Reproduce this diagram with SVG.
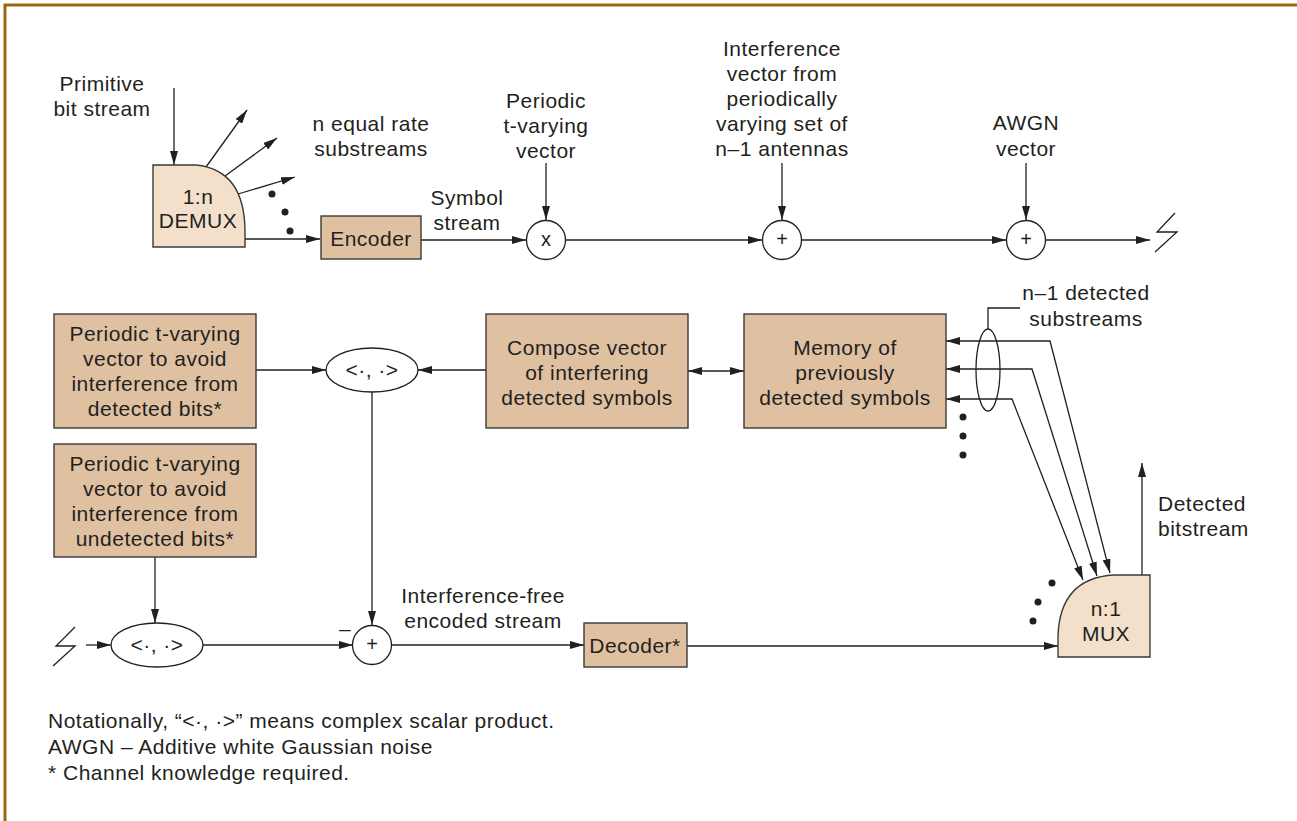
<svg xmlns="http://www.w3.org/2000/svg" width="1297" height="821" viewBox="0 0 1297 821">
  <style>
    text { font-family: "Liberation Sans", Arial, sans-serif; font-size: 21px; letter-spacing: 0.5px; fill: #231f20; text-anchor: middle; dominant-baseline: central; }
    .l { text-anchor: start; }
    .note { font-size: 21px; text-anchor: start; }
    .sym { font-size: 20px; letter-spacing: 0; }
    .box { fill: #dfc1a2; stroke: #3a3a3a; stroke-width: 1.4; }
    .mux { fill: #f3dfca; stroke: #3a3a3a; stroke-width: 1.4; }
    .op { fill: #ffffff; stroke: #231f20; stroke-width: 1.3; }
    .w { fill: none; stroke: #231f20; stroke-width: 1.3; }
    .arr { marker-end: url(#ah); }
    .arr2 { marker-start: url(#ah); marker-end: url(#ah); }
    .dot { fill: #231f20; }
  </style>
  <defs>
    <marker id="ah" viewBox="0 0 14 8" refX="14" refY="4" markerWidth="14" markerHeight="8" orient="auto-start-reverse" markerUnits="userSpaceOnUse">
      <path d="M0,0 L14,4 L0,8 Z" fill="#231f20"/>
    </marker>
  </defs>

  <!-- frame -->
  <path d="M5,821 L5,5 L1297,5" fill="none" stroke="#a0650f" stroke-width="3"/>

  <!-- connectors -->
  <g id="connectors">
    <!-- transmitter chain -->
    <line class="w arr" x1="174" y1="88" x2="174" y2="165"/>
    <line class="w arr" x1="206" y1="167" x2="247" y2="110"/>
    <line class="w arr" x1="225" y1="176" x2="277" y2="138"/>
    <line class="w arr" x1="238" y1="194" x2="295" y2="177"/>
    <line class="w arr" x1="245" y1="239" x2="320" y2="239"/>
    <line class="w arr" x1="421" y1="240" x2="526" y2="240"/>
    <line class="w arr" x1="546" y1="163" x2="546" y2="220"/>
    <line class="w arr" x1="565" y1="240" x2="762" y2="240"/>
    <line class="w arr" x1="782" y1="163" x2="782" y2="220"/>
    <line class="w arr" x1="802" y1="240" x2="1006" y2="240"/>
    <line class="w arr" x1="1026" y1="163" x2="1026" y2="220"/>
    <line class="w arr" x1="1046" y1="240" x2="1150" y2="240"/>
    <polyline class="w" points="1175,213 1157,232 1177,232 1155,252"/>

    <!-- detected-symbol loop -->
    <line class="w arr" x1="256" y1="370" x2="326" y2="370"/>
    <line class="w arr" x1="486" y1="370" x2="418" y2="370"/>
    <line class="w arr2" x1="688" y1="371" x2="744" y2="371"/>
    <polyline class="w arr2" points="1110,573 1050,341 946,341"/>
    <polyline class="w arr2" points="1097,576 1032,369 946,369"/>
    <polyline class="w arr2" points="1083,580 1012,399 946,399"/>
    <ellipse class="w" cx="988" cy="370" rx="12" ry="41"/>
    <polyline class="w" points="988,329 988,308 1020,308"/>
    <line class="w arr" x1="1142" y1="575" x2="1142" y2="463"/>

    <!-- receiver chain -->
    <line class="w arr" x1="372" y1="392" x2="372" y2="625"/>
    <line class="w arr" x1="155" y1="557" x2="155" y2="623"/>
    <polyline class="w" points="75,627 56,646 75,646 53,666"/>
    <line class="w arr" x1="86" y1="645" x2="111" y2="645"/>
    <line class="w arr" x1="203" y1="645" x2="353" y2="645"/>
    <line class="w arr" x1="392" y1="645" x2="584" y2="645"/>
    <line class="w arr" x1="687" y1="646" x2="1058" y2="646"/>
  </g>

  <!-- labels on the signal paths -->
  <g id="labels">
    <text x="102" y="83">Primitive<tspan x="102" dy="24.5">bit stream</tspan></text>
    <text x="371" y="123">n equal rate<tspan x="371" dy="24.5">substreams</tspan></text>
    <text x="467" y="197">Symbol<tspan x="467" dy="25">stream</tspan></text>
    <text x="546" y="100">Periodic<tspan x="546" dy="25">t-varying</tspan><tspan x="546" dy="24.5">vector</tspan></text>
    <text x="782" y="48">Interference<tspan x="782" dy="25">vector from</tspan><tspan x="782" dy="25">periodically</tspan><tspan x="782" dy="25">varying set of</tspan><tspan x="782" dy="25">n–1 antennas</tspan></text>
    <text x="1026" y="122">AWGN<tspan x="1026" dy="26">vector</tspan></text>
    <text x="1086" y="292">n–1 detected<tspan x="1086" dy="26">substreams</tspan></text>
    <text class="l" x="1158" y="503">Detected<tspan x="1158" dy="25">bitstream</tspan></text>
    <text x="483" y="595">Interference-free<tspan x="483" dy="25">encoded stream</tspan></text>
    <text x="345" y="628">–</text>
  </g>

  <!-- ellipsis dots -->
  <g id="dots">
    <circle class="dot" cx="272" cy="194" r="3.5"/>
    <circle class="dot" cx="285" cy="212" r="3.5"/>
    <circle class="dot" cx="290" cy="231" r="3.5"/>
    <circle class="dot" cx="963" cy="417" r="3.5"/>
    <circle class="dot" cx="963" cy="436" r="3.5"/>
    <circle class="dot" cx="963" cy="455" r="3.5"/>
    <circle class="dot" cx="1052" cy="583" r="3.5"/>
    <circle class="dot" cx="1038" cy="602" r="3.5"/>
    <circle class="dot" cx="1033" cy="621" r="3.5"/>
  </g>

  <g id="demux">
    <path class="mux" d="M153,165 L196,165 Q245,170 245,232 L245,247 L153,247 Z"/>
    <text x="198" y="196">1:n<tspan x="198" dy="24">DEMUX</tspan></text>
  </g>

  <g id="encoder">
    <rect class="box" x="321" y="216" width="100" height="43"/>
    <text x="371" y="238">Encoder</text>
  </g>

  <g id="mult">
    <circle class="op" cx="546" cy="240" r="19.5"/>
    <text class="sym" x="546" y="239">x</text>
  </g>

  <g id="add-interference">
    <circle class="op" cx="782" cy="240" r="19.5"/>
    <text class="sym" x="782" y="239">+</text>
  </g>

  <g id="add-noise">
    <circle class="op" cx="1026" cy="240" r="19.5"/>
    <text class="sym" x="1026" y="239">+</text>
  </g>

  <g id="vec-detected">
    <rect class="box" x="54" y="314" width="202" height="114"/>
    <text x="155" y="333">Periodic t-varying<tspan x="155" dy="25">vector to avoid</tspan><tspan x="155" dy="25">interference from</tspan><tspan x="155" dy="25">detected bits*</tspan></text>
  </g>

  <g id="prod-detected">
    <ellipse class="op" cx="372" cy="370" rx="46" ry="22"/>
    <text x="372" y="369">&lt;·, ·&gt;</text>
  </g>

  <g id="compose">
    <rect class="box" x="486" y="314" width="202" height="114"/>
    <text x="587" y="347">Compose vector<tspan x="587" dy="25">of interfering</tspan><tspan x="587" dy="25">detected symbols</tspan></text>
  </g>

  <g id="memory">
    <rect class="box" x="744" y="314" width="202" height="114"/>
    <text x="845" y="347">Memory of<tspan x="845" dy="25">previously</tspan><tspan x="845" dy="25">detected symbols</tspan></text>
  </g>

  <g id="vec-undetected">
    <rect class="box" x="54" y="444" width="202" height="113"/>
    <text x="155" y="463">Periodic t-varying<tspan x="155" dy="25">vector to avoid</tspan><tspan x="155" dy="25">interference from</tspan><tspan x="155" dy="25">undetected bits*</tspan></text>
  </g>

  <g id="prod-undetected">
    <ellipse class="op" cx="157" cy="645" rx="46" ry="22"/>
    <text x="157" y="644">&lt;·, ·&gt;</text>
  </g>

  <g id="subtract">
    <circle class="op" cx="372" cy="645" r="19.5"/>
    <text class="sym" x="372" y="644">+</text>
  </g>

  <g id="decoder">
    <rect class="box" x="584" y="623" width="103" height="44"/>
    <text x="635" y="645">Decoder*</text>
  </g>

  <g id="mux">
    <path class="mux" d="M1058,657 L1058,636 Q1060,578 1114,575 L1150,575 L1150,657 Z"/>
    <text x="1106" y="608">n:1<tspan x="1106" dy="25">MUX</tspan></text>
  </g>

  <!-- notes -->
  <g id="notes">
    <text class="note" x="48" y="720">Notationally, “&lt;·, ·&gt;” means complex scalar product.<tspan x="48" dy="26">AWGN – Additive white Gaussian noise</tspan><tspan x="48" dy="26">* Channel knowledge required.</tspan></text>
  </g>
</svg>
